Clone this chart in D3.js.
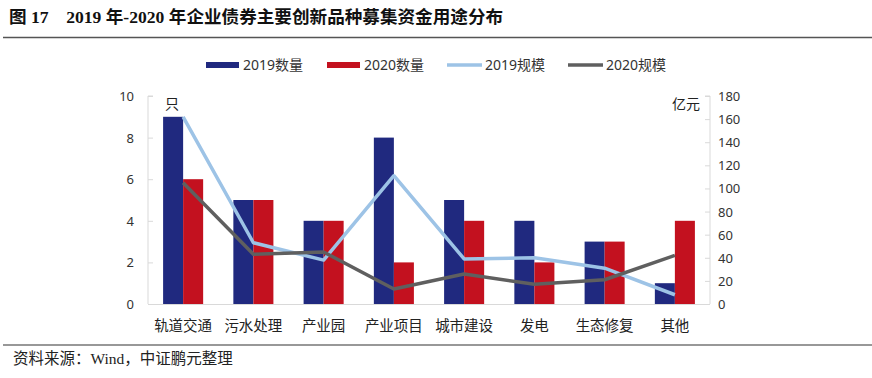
<!DOCTYPE html>
<html><head><meta charset="utf-8">
<script src="https://cdn.jsdelivr.net/npm/d3@7"></script>
<style>
body{margin:0;background:#fff;}
svg{display:block;}
</style></head>
<body>
<svg id="c" width="872" height="378"></svg>
<script>
const categories = ["轨道交通","污水处理","产业园","产业项目","城市建设","发电","生态修复","其他"];
const count2019 = [9,5,4,8,5,4,3,1];
const count2020 = [6,5,4,2,4,2,3,4];
const scale2019 = [162,53,38,111,39,40,31,8];
const scale2020 = [105,43,45,13,26,17,21,42];
const leftTicks = [0,2,4,6,8,10];
const rightTicks = [0,20,40,60,80,100,120,140,160,180];
const seriesNames = ["2019数量","2020数量","2019规模","2020规模"];
const colors = {c19:"#20297f", c20:"#c3111f", s19:"#9dc3e6", s20:"#5f5f5f"};

const svg = d3.select("#c");
const L = 148, R = 710, T = 96, B = 304;
const x = d3.scaleBand().domain(categories).range([L,R]).paddingInner(0.43).paddingOuter(0.215);
const yL = d3.scaleLinear().domain([0,10]).range([B,T]);
const yR = d3.scaleLinear().domain([0,180]).range([B,T]);

// title
svg.append("text").attr("x",9).attr("y",23)
  .style("font-family","'Liberation Serif','Noto Sans CJK SC'").style("font-weight","bold").style("font-size","17.6px")
  .attr("fill","#111").text("图 17\u00a0\u00a0\u00a0 2019 年-2020 年企业债券主要创新品种募集资金用途分布");
svg.append("line").attr("x1",3).attr("x2",872).attr("y1",37.5).attr("y2",37.5).attr("stroke","#555").attr("stroke-width",1.6);
svg.append("line").attr("x1",3).attr("x2",872).attr("y1",345).attr("y2",345).attr("stroke","#333").attr("stroke-width",1.2);
svg.append("text").attr("x",13).attr("y",364)
  .style("font-family","'Liberation Serif','Noto Sans CJK SC'").style("font-size","15.5px").attr("fill","#222")
  .text("资料来源：Wind，中证鹏元整理");

// bars
const bw = x.bandwidth()/2;
const g = svg.append("g");
g.selectAll("rect.b19").data(categories).enter().append("rect")
  .attr("x",d=>x(d)).attr("width",bw).attr("y",(d,i)=>yL(count2019[i])).attr("height",(d,i)=>B-yL(count2019[i]))
  .attr("fill",colors.c19);
g.selectAll("rect.b20").data(categories).enter().append("rect")
  .attr("x",d=>x(d)+bw).attr("width",bw).attr("y",(d,i)=>yL(count2020[i])).attr("height",(d,i)=>B-yL(count2020[i]))
  .attr("fill",colors.c20);

// axes
const axisColor = "#d9d9d9";
const la = svg.append("g").attr("transform",`translate(${L},0)`).call(d3.axisRight(yL).tickValues(leftTicks).tickSize(5).tickFormat(""));
la.selectAll("path,line").attr("stroke",axisColor);
la.select("path").attr("d",`M5,${T}H0V${B}`);
svg.selectAll("text.lt").data(leftTicks).enter().append("text")
  .attr("x",134).attr("y",d=>yL(d)+5).attr("text-anchor","end")
  .style("font-family","'Noto Sans','Noto Sans CJK SC'").style("font-size","13px").attr("fill","#333").text(d=>d);
const ra = svg.append("g").attr("transform",`translate(${R},0)`).call(d3.axisLeft(yR).tickValues(rightTicks).tickSize(5).tickFormat(""));
ra.selectAll("path,line").attr("stroke",axisColor);
ra.select("path").attr("d",`M-5,${T}H0V${B}`);
svg.selectAll("text.rt").data(rightTicks).enter().append("text")
  .attr("x",718).attr("y",d=>yR(d)+5).attr("text-anchor","start")
  .style("font-family","'Noto Sans','Noto Sans CJK SC'").style("font-size","13px").attr("fill","#333").text(d=>d);
svg.append("line").attr("x1",L).attr("x2",R).attr("y1",B+0.5).attr("y2",B+0.5).attr("stroke",axisColor).attr("stroke-width",1.2);

// category labels
svg.selectAll("text.cat").data(categories).enter().append("text")
  .attr("x",d=>x(d)+x.bandwidth()/2).attr("y",331).attr("text-anchor","middle")
  .style("font-family","'Noto Sans CJK SC'").style("font-size","14.5px").attr("fill","#222").text(d=>d);

// unit labels
svg.append("text").attr("x",165).attr("y",109).style("font-family","'Noto Sans CJK SC'").style("font-size","14px").attr("fill","#222").text("只");
svg.append("text").attr("x",700).attr("y",109).attr("text-anchor","end").style("font-family","'Noto Sans CJK SC'").style("font-size","14px").attr("fill","#222").text("亿元");

// lines
const cx = d=>x(d)+x.bandwidth()/2;
const line19 = d3.line().x((d,i)=>cx(categories[i])).y(d=>yR(d));
svg.append("path").datum(scale2019).attr("d",line19).attr("fill","none").attr("stroke",colors.s19).attr("stroke-width",3.5).attr("stroke-linejoin","round");
svg.append("path").datum(scale2020).attr("d",line19).attr("fill","none").attr("stroke",colors.s20).attr("stroke-width",3.5).attr("stroke-linejoin","round");

// legend
const leg = [
  {name:seriesNames[0], type:"rect", c:colors.c19, x:206},
  {name:seriesNames[1], type:"rect", c:colors.c20, x:327},
  {name:seriesNames[2], type:"line", c:colors.s19, x:447},
  {name:seriesNames[3], type:"line", c:colors.s20, x:568}
];
leg.forEach(l=>{
  if(l.type==="rect") svg.append("rect").attr("x",l.x).attr("y",62).attr("width",33).attr("height",6).attr("fill",l.c);
  else svg.append("line").attr("x1",l.x).attr("x2",l.x+35).attr("y1",65).attr("y2",65).attr("stroke",l.c).attr("stroke-width",3.5);
  svg.append("text").attr("x",l.x+(l.type==="rect"?37:38)).attr("y",70)
    .style("font-family","'Noto Sans','Noto Sans CJK SC'").style("font-size","14px").attr("fill","#333").text(l.name);
});
</script>
</body></html>
